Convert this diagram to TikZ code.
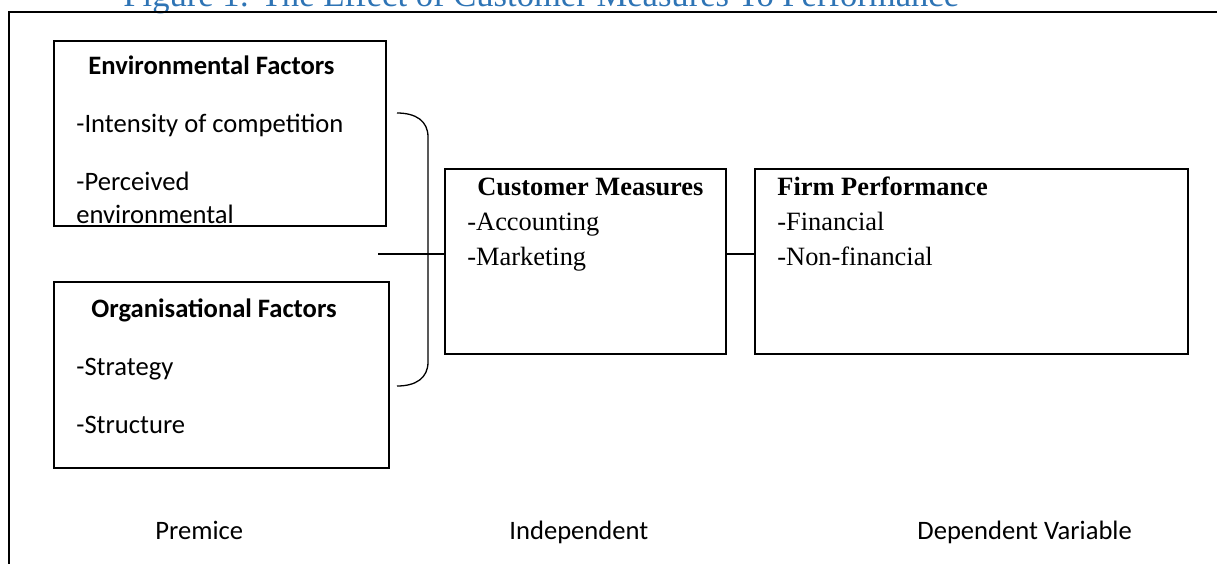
\documentclass[tikz,border=0pt]{standalone}
\usepackage{fontspec}
\setmainfont{Liberation Serif}
\newfontfamily\calibri{Carlito}
\definecolor{titleblue}{RGB}{46,116,181}

\begin{document}
\begin{tikzpicture}[x=0.5pt, y=-0.5pt,
		box/.style={draw, line width=1pt, inner sep=0pt, outer sep=0pt, minimum height=92.5pt},
		txt/.style={inner sep=0pt, anchor=base west},
		sans/.style={txt, font=\calibri\fontsize{13.3}{16}\selectfont},
		sansbold/.style={txt, font=\calibri\bfseries\fontsize{13.3}{16}\selectfont},
		serif/.style={txt, font=\fontsize{13.2}{16}\selectfont},
		serifbold/.style={txt, font=\bfseries\fontsize{13.2}{16}\selectfont}]
		%%%%% START %%%%%
		
		\useasboundingbox (0,0) rectangle (1217,564);
		
		\node[txt, text=titleblue, font=\fontsize{17.3}{20}\selectfont] (title) at (123, 6) {Figure 1: The Effect of Customer Measures To Performance};
		\draw[line width=1pt] (1217, 11.7) -- (9.3, 11.7) -- (9.3, 564);
		
		\node[box, minimum width=166pt, minimum height=92.5pt] (env) at (220, 133.5) {};
		\node[sansbold] (envhead) at (88, 74) {Environmental Factors};
		\node[sans] (envone) at (76, 132) {-Intensity of competition};
		\node[sans] (envtwo) at (76, 190) {-Perceived};
		\node[sans] (envthree) at (76, 223) {environmental};
		
		\node[box, minimum width=167.5pt, minimum height=93pt] (org) at (221.5, 375) {};
		\node[sansbold] (orghead) at (91, 317) {Organisational Factors};
		\node[sans] (orgone) at (76, 375) {-Strategy};
		\node[sans] (orgtwo) at (76, 433) {-Structure};
		
		\node[box, minimum width=140.5pt] (cust) at (585.5, 261.5) {};
		\node[serifbold] (custhead) at (477, 195) {Customer Measures};
		\node[serif] (custone) at (467, 230) {-Accounting};
		\node[serif] (custtwo) at (467, 265) {-Marketing};
		
		\node[box, minimum width=216.5pt] (firm) at (971.5, 261.5) {};
		\node[serifbold] (firmhead) at (777, 195) {Firm Performance};
		\node[serif] (firmone) at (777, 230) {-Financial};
		\node[serif] (firmtwo) at (777, 265) {-Non-financial};
		
		% brace and links
		\coordinate (bracetop) at (397, 113);
		\coordinate (bracebot) at (397, 386);
		\coordinate (join) at (378, 254);
		\draw[line width=0.65pt] (bracetop) .. controls (416, 113) and (428, 121) .. (428, 137) -- (428, 362) .. controls (428, 378) and (416, 386) .. (bracebot);
		\draw[line width=0.8pt] (join) -- (join -| cust.west);
		\draw[line width=0.8pt] (cust.east |- join) -- (firm.west |- join);
		
		\node[sans] (premise) at (155, 539.5) {Premice};
		\node[sans] (indep) at (509, 539.5) {Independent};
		\node[sans] (dep) at (917, 539.5) {Dependent Variable};
		
		%%%%% END %%%%%
\end{tikzpicture}
\end{document}
